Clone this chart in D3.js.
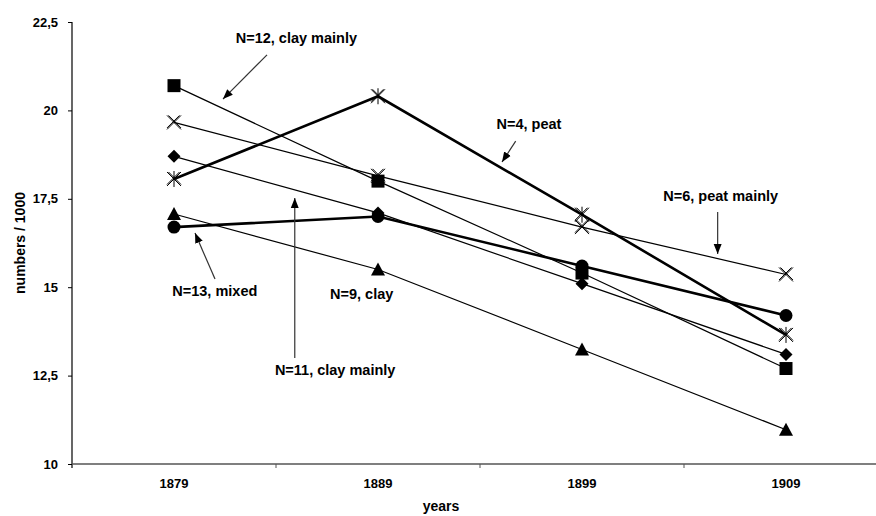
<!DOCTYPE html>
<html>
<head>
<meta charset="utf-8">
<script src="https://cdn.jsdelivr.net/npm/d3@7"></script>
<style>
  body { margin: 0; background: #fff; }
  text { font-family: "Liberation Sans", Arial, sans-serif; font-weight: bold; fill: #000; }
</style>
</head>
<body>
<svg id="chart"></svg>
<script>
var years = ["1879", "1889", "1899", "1909"];
var yTicks = [10, 12.5, 15, 17.5, 20, 22.5];

// one array per district group
var clay12 = [20.7, 18.0, 15.4, 12.7];     // N=12, clay mainly (square)
var peat4 = [18.06, 20.4, 17.05, 13.65];   // N=4, peat (asterisk, bold)
var peat6 = [19.66, 18.15, 16.7, 15.36];   // N=6, peat mainly (x)
var clay11 = [18.7, 17.1, 15.1, 13.1];     // N=11, clay mainly (diamond)
var mixed13 = [16.7, 17.0, 15.6, 14.2];    // N=13, mixed (circle, bold)
var clay9 = [17.07, 15.5, 13.24, 10.97];   // N=9, clay (triangle)

var seriesNames = ["N=12, clay mainly", "N=4, peat", "N=6, peat mainly", "N=11, clay mainly", "N=13, mixed", "N=9, clay"];
var seriesValues = [clay12, peat4, peat6, clay11, mixed13, clay9];
var seriesMarkers = ["square", "asterisk", "cross", "diamond", "circle", "triangle"];
var seriesBold = [false, true, false, false, true, false];

// annotation positions: i = category index (fractional), v = value
var labelText = ["N=12, clay mainly", "N=4, peat", "N=6, peat mainly", "N=13, mixed", "N=9, clay", "N=11, clay mainly"];
var labelPos = [[0.60, 21.91], [1.74, 19.47], [2.68, 17.44], [0.20, 14.75], [0.92, 14.67], [0.79, 12.52]];
var arrowFrom = [[0.456, 21.57], [1.675, 19.13], [2.665, 17.13], [0.201, 15.23], null, [0.592, 13.0]];
var arrowTo = [[0.24, 20.32], [1.608, 18.54], [2.665, 15.94], [0.103, 16.53], null, [0.592, 17.52]];

var width = 876, height = 516;
var margin = {left: 72, top: 22, bottom: 52};
var plotRight = 888;

var svg = d3.select("#chart")
  .attr("width", width)
  .attr("height", height);

var x = d3.scaleBand()
  .domain(years)
  .range([margin.left, plotRight]);

var y = d3.scaleLinear()
  .domain([10, 22.5])
  .range([height - margin.bottom, margin.top]);

var step = x.bandwidth();
var xMid = d => x(d) + step / 2;
var xIdx = i => x(years[0]) + step / 2 + i * step;

// arrowhead
svg.append("defs").append("marker")
  .attr("id", "head")
  .attr("viewBox", "0 0 10 10")
  .attr("refX", 10).attr("refY", 5)
  .attr("markerWidth", 10).attr("markerHeight", 10)
  .attr("markerUnits", "userSpaceOnUse")
  .attr("orient", "auto")
  .append("path")
  .attr("d", "M0,1 L10,5 L0,9 Z")
  .attr("fill", "#000");

// y axis
var yAxis = svg.append("g")
  .attr("transform", `translate(${margin.left},0)`)
  .call(d3.axisLeft(y)
    .tickValues(yTicks)
    .tickSize(4)
    .tickPadding(10)
    .tickFormat(d => String(d).replace(".", ",")));
yAxis.select(".domain").attr("stroke", "#000").attr("stroke-width", 1.2).attr("d", `M0,${y(22.5)}V${y(10) + 4}`);
yAxis.selectAll(".tick line").attr("stroke", "#000");
yAxis.selectAll("text").style("font-size", "13px");

// x axis
var xAxis = svg.append("g")
  .attr("transform", `translate(0,${y(10)})`);
xAxis.append("line")
  .attr("x1", margin.left).attr("x2", plotRight)
  .attr("stroke", "#555").attr("stroke-width", 1.5);
xAxis.selectAll(".sep")
  .data(years)
  .enter().append("line")
  .attr("x1", d => x(d) + step).attr("x2", d => x(d) + step)
  .attr("y1", 0).attr("y2", 4)
  .attr("stroke", "#555");
xAxis.selectAll(".lab")
  .data(years)
  .enter().append("text")
  .attr("x", xMid)
  .attr("y", 24)
  .attr("text-anchor", "middle")
  .style("font-size", "13px")
  .text(d => d);

// axis titles
svg.append("text")
  .attr("transform", `translate(25,${(y(10) + y(22.5)) / 2}) rotate(-90)`)
  .attr("text-anchor", "middle")
  .style("font-size", "14px")
  .text("numbers / 1000");

svg.append("text")
  .attr("x", (margin.left + 810) / 2)
  .attr("y", 511)
  .attr("text-anchor", "middle")
  .style("font-size", "14px")
  .text("years");

// lines
var line = d3.line()
  .x((d, i) => xMid(years[i]))
  .y(d => y(d));

var symbolPath = {
  square: "M-6.5,-6.5H6.5V6.5H-6.5Z",
  diamond: "M0,-6.5L6.5,0L0,6.5L-6.5,0Z",
  triangle: "M0,-7L7,6H-7Z",
  cross: "M-7,-7L7,7M-7,7L7,-7M-5.5,-7L7,5.5M-7,5.5L5.5,-7",
  asterisk: "M-7,-7L7,7M-7,7L7,-7M0,-8V8M-5.5,-7L7,5.5M-7,5.5L5.5,-7"
};

var series = seriesValues.map((v, k) => ({name: seriesNames[k], values: v, marker: seriesMarkers[k], bold: seriesBold[k]}));

var groups = svg.selectAll(".series")
  .data(series)
  .enter().append("g")
  .attr("class", "series");

groups.append("path")
  .attr("d", d => line(d.values))
  .attr("fill", "none")
  .attr("stroke", "#000")
  .attr("stroke-width", d => d.bold ? 2.6 : 1.2);

groups.each(function(s) {
  var g = d3.select(this);
  s.values.forEach((v, i) => {
    var cx = xMid(years[i]), cy = y(v);
    if (s.marker === "circle") {
      g.append("circle").attr("cx", cx).attr("cy", cy).attr("r", 6.5).attr("fill", "#000");
    } else if (s.marker === "cross" || s.marker === "asterisk") {
      g.append("path").attr("d", symbolPath[s.marker])
        .attr("transform", `translate(${cx},${cy})`)
        .attr("fill", "none").attr("stroke", "#000").attr("stroke-width", 1);
    } else {
      g.append("path").attr("d", symbolPath[s.marker])
        .attr("transform", `translate(${cx},${cy})`)
        .attr("fill", "#000");
    }
  });
});

// annotations
svg.selectAll(".note")
  .data(labelText)
  .enter().append("text")
  .attr("class", "note")
  .attr("x", (d, i) => xIdx(labelPos[i][0]))
  .attr("y", (d, i) => y(labelPos[i][1]))
  .attr("text-anchor", "middle")
  .style("font-size", "14.5px")
  .text(d => d);

labelText.forEach((t, i) => {
  if (!arrowFrom[i]) return;
  svg.append("line")
    .attr("x1", xIdx(arrowFrom[i][0])).attr("y1", y(arrowFrom[i][1]))
    .attr("x2", xIdx(arrowTo[i][0])).attr("y2", y(arrowTo[i][1]))
    .attr("stroke", "#333")
    .attr("stroke-width", 1.2)
    .attr("marker-end", "url(#head)");
});
</script>
</body>
</html>
